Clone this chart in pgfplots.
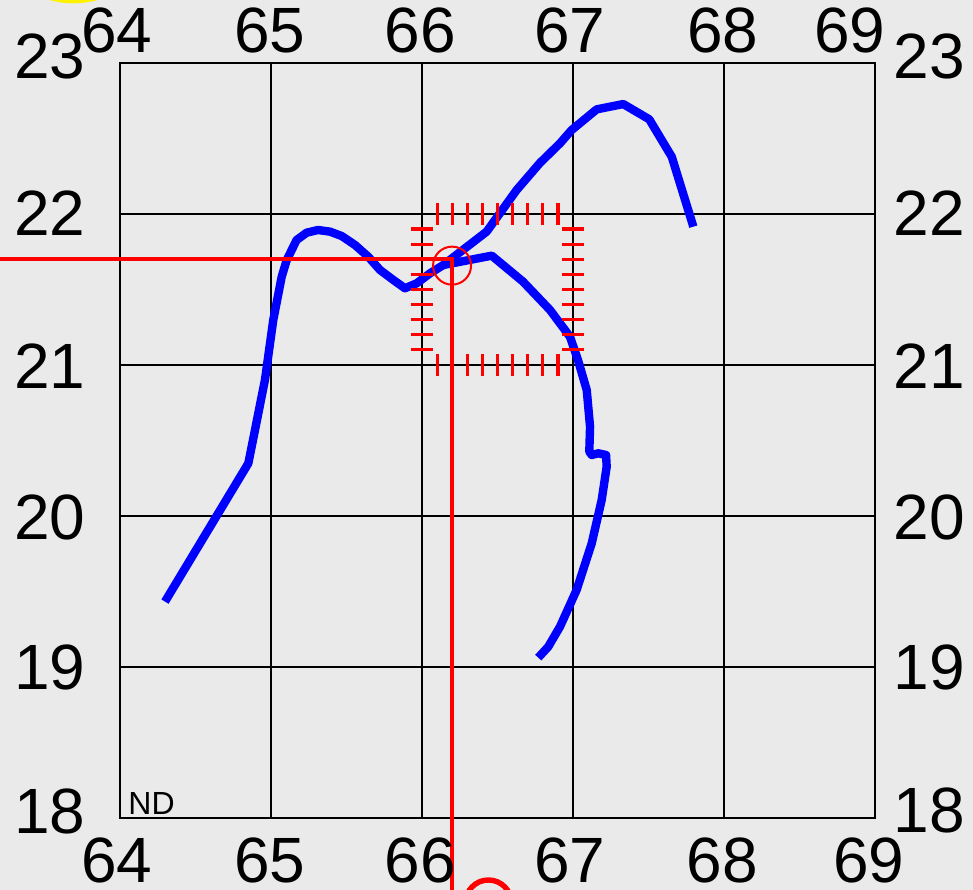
\documentclass[border=0pt]{standalone}
\usepackage{pgfplots}
\pgfplotsset{compat=1.18}
\usepackage{fontspec}
\setmainfont{Liberation Sans}
\usetikzlibrary{backgrounds}
\definecolor{bg}{RGB}{234,234,234}

\begin{document}
\begin{tikzpicture}
  \begin{axis}[
      scale only axis,
      width=377.5pt, height=377.5pt,
      xmin=64, xmax=69, ymin=18, ymax=23,
      xtick={64,...,69}, ytick={18,...,23},
      xticklabels={}, yticklabels={},
      major tick length=0pt,
      grid=major,
      major grid style={black, line width=1.1pt},
      axis line style={black, line width=1.1pt},
      axis background/.style={fill=bg},
      clip=false,
    ]

    % tracks
    \addplot[blue, line width=4.2pt, line join=round] coordinates {
        (64.298,19.433) (64.850,20.349) (64.960,20.901) (65.015,21.298)
        (65.071,21.585) (65.104,21.695) (65.170,21.828) (65.236,21.876)
        (65.311,21.894) (65.391,21.883) (65.468,21.854) (65.556,21.795)
        (65.644,21.717) (65.722,21.629) (65.810,21.563) (65.887,21.508)
        (65.965,21.541) (66.053,21.607) (66.141,21.662) (66.428,21.883)
        (66.627,22.159) (66.781,22.338) (66.914,22.468) (66.991,22.556)
        (67.157,22.693) (67.333,22.728) (67.505,22.627) (67.654,22.379)
        (67.797,21.916)
      };
    \addplot[blue, line width=4.2pt, line join=round] coordinates {
        (66.141,21.662) (66.462,21.724) (66.669,21.552) (66.848,21.364)
        (66.980,21.187) (67.033,21.033) (67.091,20.834) (67.113,20.591)
        (67.108,20.426) (67.124,20.404) (67.168,20.415) (67.219,20.404)
        (67.223,20.326) (67.190,20.106) (67.124,19.819) (67.024,19.510)
        (66.914,19.267) (66.836,19.134) (66.770,19.062)
      };

    % tick box round the centre
    \addplot[red, only marks, mark=|, mark size=5.5pt, mark options={line width=1.6pt}] coordinates {
        (66.1,22) (66.2,22) (66.3,22) (66.4,22) (66.5,22) (66.6,22) (66.7,22) (66.8,22) (66.9,22)
        (66.1,21) (66.2,21) (66.3,21) (66.4,21) (66.5,21) (66.6,21) (66.7,21) (66.8,21) (66.9,21)
      };
    \addplot[red, only marks, mark=-, mark size=5.5pt, mark options={line width=1.6pt}] coordinates {
        (66,21.1) (66,21.2) (66,21.3) (66,21.4) (66,21.5) (66,21.6) (66,21.7) (66,21.8) (66,21.9)
        (67,21.1) (67,21.2) (67,21.3) (67,21.4) (67,21.5) (67,21.6) (67,21.7) (67,21.8) (67,21.9)
      };

    % cross hair
    \addplot[red, line width=2.3pt] coordinates {(62.9,21.702) (66.199,21.702) (66.199,17.3)};
    \addplot[red, only marks, mark=o, mark size=9.5pt, mark options={line width=1pt}] coordinates {(66.199,21.658)};
    \addplot[red, only marks, mark=o, mark size=11.5pt, mark options={line width=2.7pt}] coordinates {(66.440,17.437)};
    \addplot[yellow, only marks, mark=*, mark size=43.5pt] coordinates {(63.692,23.974)};

    % labels
    \foreach \lx/\ly/\t in {63.980/23.2185/64, 64.993/23.2185/65, 65.987/23.2185/66,
        66.980/23.2185/67, 67.993/23.2185/68, 68.834/23.2185/69,
        63.980/17.722/64, 64.993/17.722/65, 65.987/17.722/66,
        66.980/17.722/67, 67.987/17.722/68, 68.960/17.722/69,
        63.536/23.040/23, 63.536/22.007/22, 63.536/20.993/21,
        63.536/19.993/20, 63.536/19.000/19, 63.536/18.046/18,
        69.358/23.046/23, 69.358/22.007/22, 69.358/20.993/21,
        69.358/19.993/20, 69.358/19.000/19, 69.358/18.053/18} {
      \edef\temp{\noexpand\node[inner sep=0pt, font=\noexpand\fontsize{32}{38}\noexpand\selectfont]
        at (axis cs:\lx,\ly) {\t};}
      \temp
    }
    \node[anchor=base west, inner sep=0pt, font=\fontsize{16}{19}\selectfont] at (axis cs:64.053,18.02) {ND};

    \coordinate (bl) at (axis cs:63.20530,17.52318);
    \coordinate (tr) at (axis cs:69.64901,23.41722);
  \end{axis}
  \pgfresetboundingbox
  \path[use as bounding box] (bl) rectangle (tr);
  \begin{scope}[on background layer]
    \fill[bg] (bl) rectangle (tr);
  \end{scope}
\end{tikzpicture}
\end{document}
